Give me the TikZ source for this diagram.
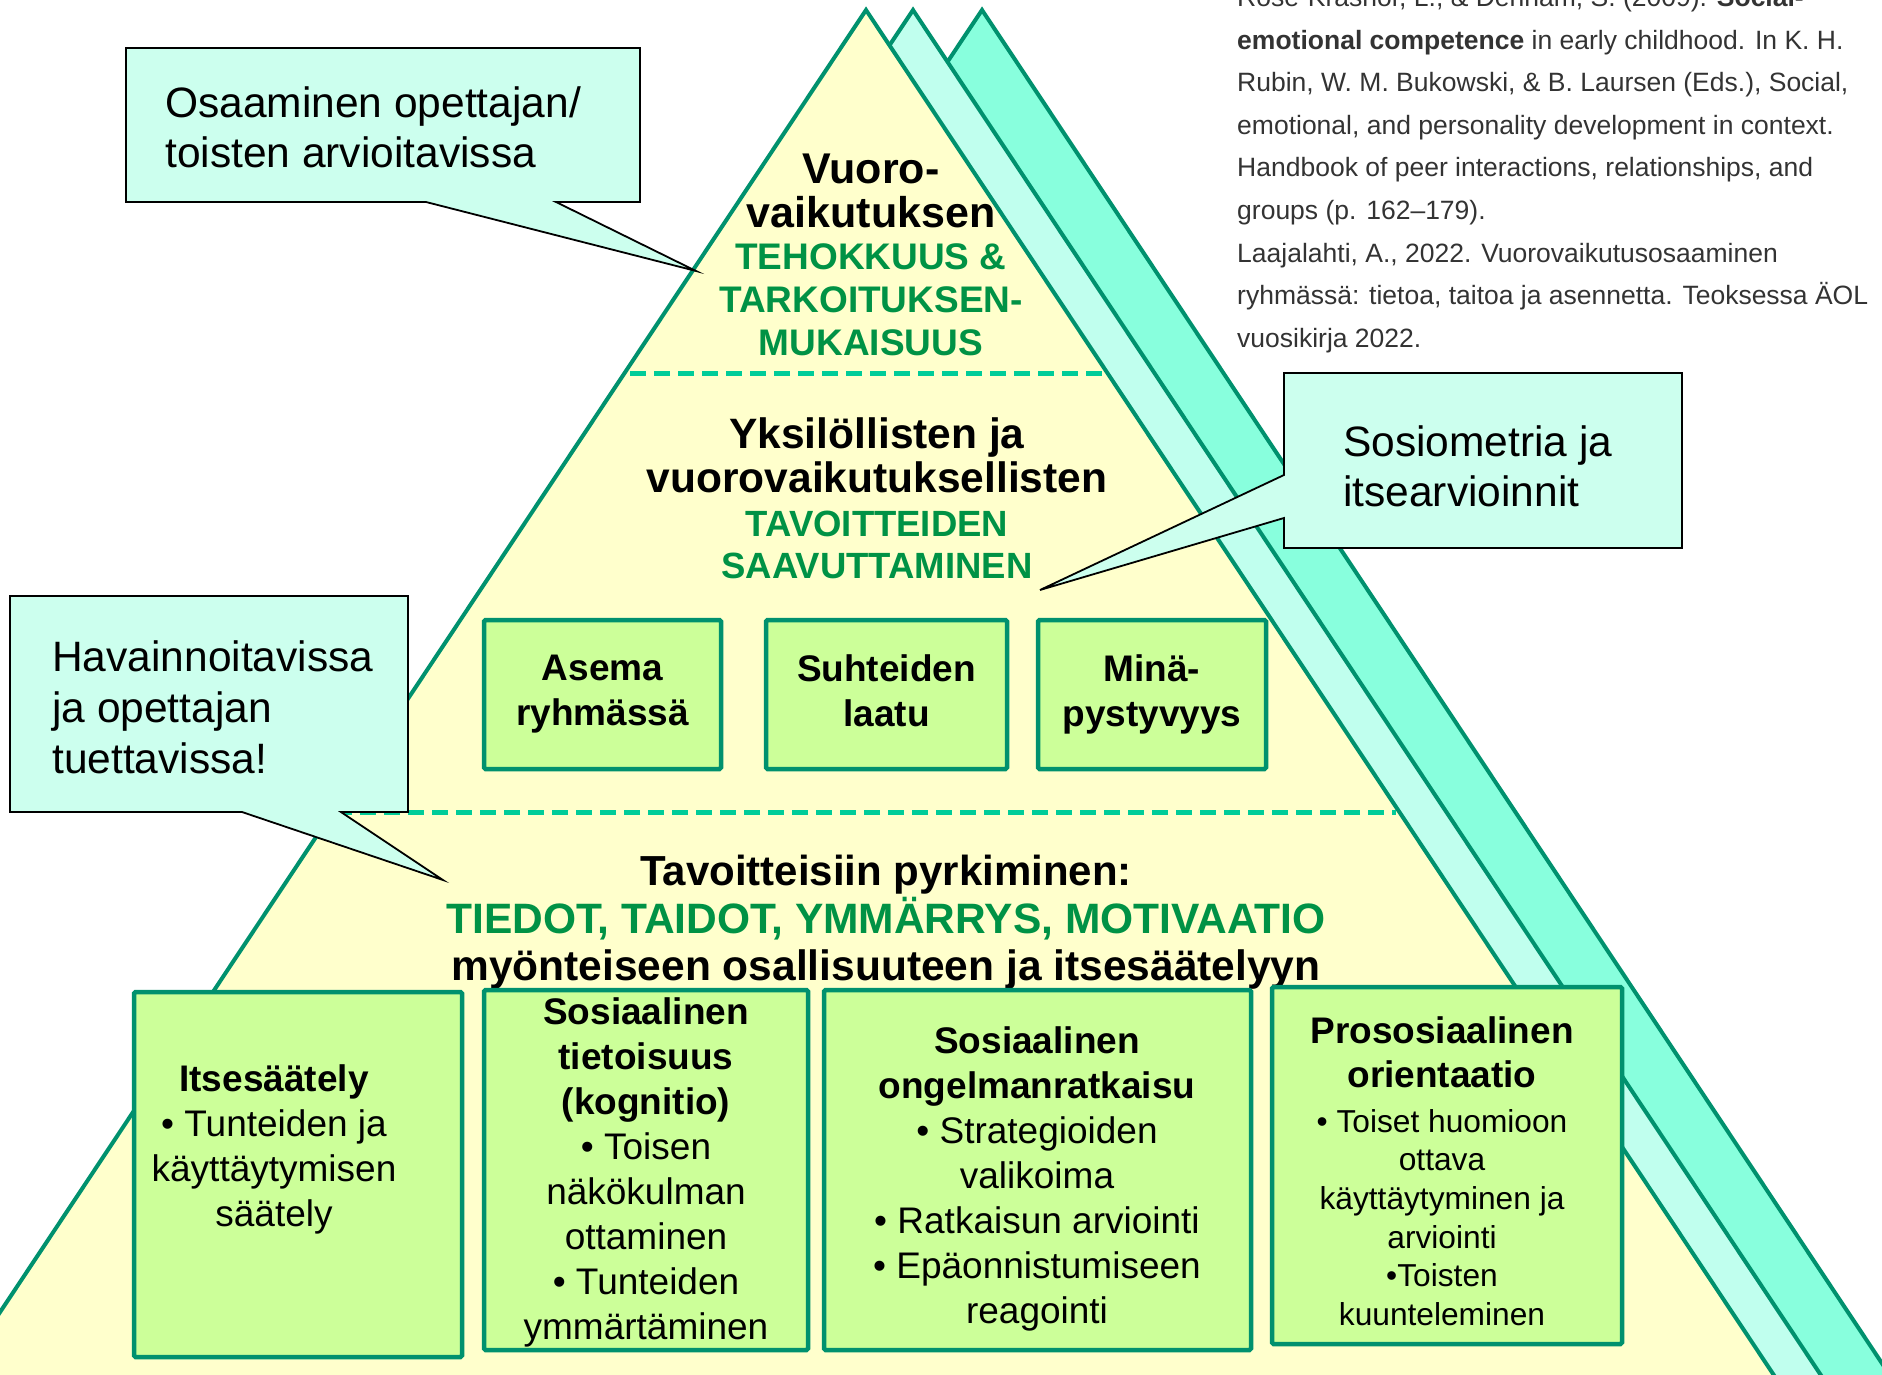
\documentclass[tikz,border=0pt]{standalone}
\usepackage{fontspec}
\setmainfont{Liberation Sans}
\newcommand\myfs[2]{\fontsize{#1}{#2}\selectfont}
\definecolor{tealc}{RGB}{0,145,110}
\definecolor{greentext}{RGB}{0,146,69}
\definecolor{dashc}{RGB}{0,204,153}
\definecolor{yellowc}{RGB}{255,255,204}
\definecolor{cyanc}{RGB}{192,255,238}
\definecolor{aquac}{RGB}{136,255,221}
\definecolor{boxg}{RGB}{204,255,153}
\definecolor{callc}{RGB}{204,255,238}
\definecolor{refgray}{RGB}{51,51,51}
\begin{document}
\begin{tikzpicture}[x=1pt,y=-1pt,
  tri/.style={draw=tealc, line width=4pt, line join=miter},
  gbox/.style={draw=tealc, fill=boxg, line width=4.5pt, rounded corners=1.5pt, inner sep=0pt},
  callout/.style={draw=black, fill=callc, line width=1.8pt, line join=miter},
  dline/.style={draw=dashc, line width=5pt, dash pattern=on 16pt off 8pt},
  lbl/.style={inner sep=0pt, align=center},
  lbll/.style={inner sep=0pt, align=left, anchor=west}]
\useasboundingbox (0,0) rectangle (1882,1375);
\clip (0,0) rectangle (1882,1375);
\fill[white] (0,0) rectangle (1882,1375);
% triangles
\path[tri, fill=aquac] (982,10) -- (1972.9,1500) -- (-8.9,1500) -- cycle;
\path[tri, fill=cyanc] (913,10) -- (1903.9,1500) -- (-77.9,1500) -- cycle;
\path[tri, fill=yellowc] (866,10) -- (1856.9,1500) -- (-124.9,1500) -- cycle;
% dashed separators
\coordinate (d1a) at (630,373); \coordinate (d1b) at (1102,373);
\coordinate (d2a) at (336,812); \coordinate (d2b) at (1396,812);
\draw[dline] (d1a) -- (d1b);
\draw[dline] (d2a) -- (d2b);
% references
\node[lbll, text=refgray, font=\myfs{26.5}{42.6}] (refs) at (1237,170) {Rose-Krasnor, L., \& Denham, S. (2009). \textbf{Social-}\\
\textbf{emotional competence} in early childhood. In K. H.\\
Rubin, W. M. Bukowski, \& B. Laursen (Eds.), Social,\\
emotional, and personality development in context.\\
Handbook of peer interactions, relationships, and\\
groups (p. 162–179).\\
Laajalahti, A., 2022. Vuorovaikutusosaaminen\\
ryhmässä: tietoa, taitoa ja asennetta. Teoksessa ÄOL\\
vuosikirja 2022.};
% top level
\node[lbl, font=\myfs{43}{44}\bfseries] (topa) at (871,191) {Vuoro-\\vaikutuksen};
\node[lbl, text=greentext, font=\myfs{37}{43}\bfseries] (topb) at (871,300) {TEHOKKUUS \&\\TARKOITUKSEN-\\MUKAISUUS};
% middle level
\node[lbl, font=\myfs{42.5}{44}\bfseries] (mida) at (877,455) {Yksilöllisten ja\\vuorovaikutuksellisten};
\node[lbl, text=greentext, font=\myfs{36.5}{42}\bfseries] (midb) at (877,544.5) {TAVOITTEIDEN\\SAAVUTTAMINEN};
\node[gbox, minimum width=237pt, minimum height=149pt, align=center, font=\myfs{37}{45}\bfseries] (asema) at (602.5,694.5) {Asema\\ryhmässä};
\node[gbox, minimum width=241pt, minimum height=149pt, align=center, font=\myfs{37}{45}\bfseries] (suht) at (886.5,694.5) {Suhteiden\\laatu\vphantom{y}};
\node[gbox, minimum width=228pt, minimum height=149pt, align=center, font=\myfs{37}{45}\bfseries] (mina) at (1152,694.5) {Minä-\\pystyvyys};
% bottom level
\node[lbl, font=\myfs{42}{44}\bfseries] (bota) at (886,875) {Tavoitteisiin pyrkiminen:};
\node[lbl, text=greentext, font=\myfs{42.5}{44}\bfseries] (botb) at (886,918.5) {TIEDOT, TAIDOT, YMMÄRRYS, MOTIVAATIO};
\node[lbl, font=\myfs{42.5}{44}\bfseries] (botc) at (886,970) {myönteiseen osallisuuteen ja itsesäätelyyn};
\node[gbox, minimum width=328pt, minimum height=365pt] (b1) at (298,1174.5) {};
\node[gbox, minimum width=324pt, minimum height=360pt] (b2) at (646,1170) {};
\node[gbox, minimum width=427pt, minimum height=360pt] (b3) at (1037.5,1170) {};
\node[gbox, minimum width=350pt, minimum height=357pt] (b4) at (1447,1165.5) {};
\node[lbl, font=\myfs{37}{45}] (t1) at (274,1149.5) {\textbf{Itsesäätely}\\• Tunteiden ja\\käyttäytymisen\\säätely};
\node[lbl, font=\myfs{37}{45}] (t2) at (646,1172.5) {\textbf{Sosiaalinen}\\\textbf{tietoisuus}\\\textbf{(kognitio)}\\• Toisen\\näkökulman\\ottaminen\\• Tunteiden\\ymmärtäminen};
\node[lbl, font=\myfs{37}{45}] (t3) at (1037,1179) {\textbf{Sosiaalinen}\\\textbf{ongelmanratkaisu}\\• Strategioiden\\valikoima\\• Ratkaisun arviointi\\• Epäonnistumiseen\\reagointi};
\node[lbl, font=\myfs{37}{44}\bfseries] (t4a) at (1442,1052) {Prososiaalinen\\orientaatio};
\node[lbl, font=\myfs{31.7}{38.6}] (t4b) at (1442,1217.5) {• Toiset huomioon\\ottava\\käyttäytyminen ja\\arviointi\\•Toisten\\kuunteleminen};
% callouts
\path[callout] (126,48) -- (640,48) -- (640,202) -- (556,202) -- (696,271) -- (426,202) -- (126,202) -- cycle;
\node[lbll, font=\myfs{42.5}{50}] (c1) at (165,127) {Osaaminen opettajan/\\toisten arvioitavissa};
\path[callout] (1284,373) -- (1682,373) -- (1682,548) -- (1284,548) -- (1284,518) -- (1040,590) -- (1284,475) -- cycle;
\node[lbll, font=\myfs{42.5}{50}] (c2) at (1343,466) {Sosiometria ja\\itsearvioinnit};
\path[callout] (10,596) -- (408,596) -- (408,812) -- (341,812) -- (443,880) -- (242,812) -- (10,812) -- cycle;
\node[lbll, font=\myfs{42.5}{51}] (c3) at (52,707) {Havainnoitavissa\\ja opettajan\\tuettavissa!};
\end{tikzpicture}
\end{document}
